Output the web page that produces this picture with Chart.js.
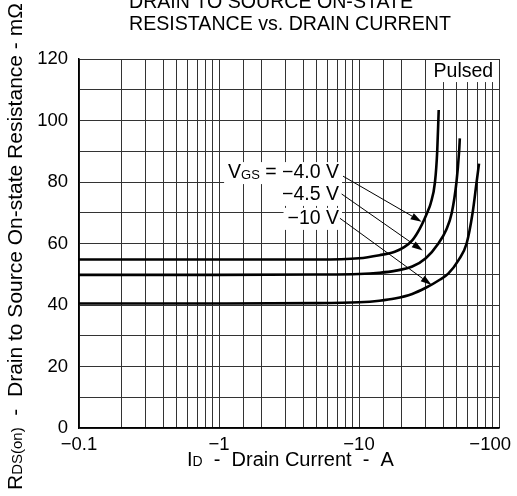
<!DOCTYPE html>
<html>
<head>
<meta charset="utf-8">
<script src="https://cdn.jsdelivr.net/npm/chart.js@4.4.1/dist/chart.umd.min.js"></script>
<style>
  body { margin: 0; background: #fff; }
  canvas { display: block; }
</style>
</head>
<body>
<canvas id="rds-chart" width="517" height="496"></canvas>
<script>
// drain current (magnitude, A) and on-state resistance (mOhm)
var idVgs40 = [0.1, 1, 5, 10, 14, 18, 21, 24, 27.3, 31, 32.5, 34.9, 36.2, 37.1];
var rdsVgs40 = [54.8, 54.8, 54.8, 55.2, 56.2, 57.3, 58.8, 61, 65, 70.5, 73, 80, 90, 103.4];

var idVgs45 = [0.1, 1, 5, 10, 14, 18, 24, 30, 36.9, 42, 46, 49.7, 51.9, 52.5];
var rdsVgs45 = [49.8, 49.8, 49.9, 50.1, 50.5, 51.1, 52.5, 55.2, 60, 64.5, 70, 80, 90, 94.2];

var idVgs10 = [0.1, 1, 5, 10, 14, 18, 24, 30, 38, 43.4, 51.4, 58.7, 64.8, 69.2, 72];
var rdsVgs10 = [40.5, 40.5, 40.6, 40.9, 41.4, 42.1, 43.6, 45.6, 48.3, 50.2, 54.6, 60, 70, 80, 86];

var xTickValues = [0.1, 1, 10, 100];
var xTickLabels = ['\u22120.1', '\u22121', '\u221210', '\u2212100'];
var yTickLabels = ['0', '20', '40', '60', '80', '100', '120'];

var vgsLabels = ['\u22124.0 V', '\u22124.5 V', '\u221210 V'];
// label anchor (right edge) and arrows, in data units
var labelAt = [[7.2, 82.9], [7.2, 75.8], [7.2, 68.0]];
var arrowFrom = [[7.69, 81.9], [7.52, 76.1], [7.31, 68.2]];
var arrowTo = [[28.0, 67.1], [28.5, 57.7], [33.0, 46.5]];

var FONT = "'Liberation Sans', Arial, sans-serif";

function toPoints(xs, ys) {
    return xs.map(function (x, i) { return { x: x, y: ys[i] }; });
}

function curve(xs, ys) {
    return {
        data: toPoints(xs, ys),
        borderColor: '#000',
        borderWidth: 2.6,
        pointRadius: 0,
        fill: false,
        cubicInterpolationMode: 'monotone'
    };
}

// draws text pieces left to right, each {t, s, dy}
function drawPieces(ctx, pieces, x, y) {
    pieces.forEach(function (p) {
        ctx.font = p.s + 'px ' + FONT;
        ctx.fillText(p.t, x, y + (p.dy || 0));
        x += ctx.measureText(p.t).width;
    });
    return x;
}

function piecesWidth(ctx, pieces) {
    var w = 0;
    pieces.forEach(function (p) {
        ctx.font = p.s + 'px ' + FONT;
        w += ctx.measureText(p.t).width;
    });
    return w;
}

function arrow(ctx, x1, y1, x2, y2) {
    var ang = Math.atan2(y2 - y1, x2 - x1);
    var len = 11, half = 3.5;
    var bx = x2 - len * Math.cos(ang), by = y2 - len * Math.sin(ang);
    ctx.beginPath();
    ctx.moveTo(x1, y1);
    ctx.lineTo(bx, by);
    ctx.lineWidth = 1;
    ctx.stroke();
    ctx.beginPath();
    ctx.moveTo(x2, y2);
    ctx.lineTo(bx + half * Math.sin(ang), by - half * Math.cos(ang));
    ctx.lineTo(bx - half * Math.sin(ang), by + half * Math.cos(ang));
    ctx.closePath();
    ctx.fill();
}

var decorations = {
    id: 'decorations',
    afterDatasetsDraw: function (chart) {
        var ctx = chart.ctx;
        var xs = chart.scales.x, ys = chart.scales.y;
        ctx.save();
        ctx.fillStyle = '#000';
        ctx.strokeStyle = '#000';
        ctx.textBaseline = 'middle';

        // "Pulsed" box
        var bl = xs.getPixelForValue(31), br = xs.getPixelForValue(100);
        var bt = ys.getPixelForValue(120), bb = ys.getPixelForValue(112.5);
        ctx.fillStyle = '#fff';
        ctx.fillRect(bl, bt + 1, br - bl - 1, bb - bt - 1);
        ctx.fillStyle = '#000';
        ctx.font = '19.5px ' + FONT;
        ctx.textAlign = 'center';
        ctx.fillText('Pulsed', (bl + br) / 2, (bt + bb) / 2 + 1);
        ctx.textAlign = 'left';

        // VGS labels with white backgrounds
        labelAt.forEach(function (a, i) {
            var pieces = i === 0
                ? [{ t: 'V', s: 19.5 }, { t: 'GS', s: 13, dy: 2 }, { t: ' = ', s: 19.5 }, { t: vgsLabels[i], s: 19.5 }]
                : [{ t: vgsLabels[i], s: 19.5 }];
            var w = piecesWidth(ctx, pieces);
            var rx = xs.getPixelForValue(a[0]);
            var cy = ys.getPixelForValue(a[1]);
            ctx.fillStyle = '#fff';
            ctx.fillRect(rx - w - 4, cy - 11, w + 7, 22);
            ctx.fillStyle = '#000';
            drawPieces(ctx, pieces, rx - w, cy);
        });

        // arrows
        arrowFrom.forEach(function (f, i) {
            arrow(ctx,
                xs.getPixelForValue(f[0]), ys.getPixelForValue(f[1]),
                xs.getPixelForValue(arrowTo[i][0]), ys.getPixelForValue(arrowTo[i][1]));
        });
        ctx.restore();
    },
    afterDraw: function (chart) {
        var ctx = chart.ctx;
        var xs = chart.scales.x;
        ctx.save();
        ctx.fillStyle = '#000';

        // x tick labels, kept inside the canvas at the right end
        ctx.font = '18.5px ' + FONT;
        ctx.textAlign = 'center';
        ctx.textBaseline = 'middle';
        xTickValues.forEach(function (v, i) {
            var px = xs.getPixelForValue(v);
            var w = ctx.measureText(xTickLabels[i]).width;
            px = Math.min(px, 511 - w / 2);
            ctx.fillText(xTickLabels[i], px, chart.chartArea.bottom + 17);
        });

        ctx.textBaseline = 'alphabetic';
        ctx.textAlign = 'left';

        // title
        ctx.font = '19.6px ' + FONT;
        ctx.fillText('DRAIN TO SOURCE ON-STATE', 129, 8);
        ctx.fillText('RESISTANCE vs. DRAIN CURRENT', 129, 30);

        // x axis title
        drawPieces(ctx, [
            { t: 'I', s: 20 }, { t: 'D', s: 14 },
            { t: '  -  Drain Current  -  A', s: 20 }
        ], 187, 466);

        // y axis title
        ctx.translate(22, 490);
        ctx.rotate(-Math.PI / 2);
        drawPieces(ctx, [
            { t: 'R', s: 21 }, { t: 'DS(on)', s: 15 },
            { t: '  -  Drain to Source On-state Resistance - m\u03a9', s: 21 }
        ], 0, 0);
        ctx.restore();
    }
};

var config = {
    type: 'line',
    data: {
        datasets: [
            curve(idVgs40, rdsVgs40),
            curve(idVgs45, rdsVgs45),
            curve(idVgs10, rdsVgs10)
        ]
    },
    options: {
        responsive: false,
        animation: false,
        devicePixelRatio: 1,
        layout: { padding: { top: 59, right: 18, left: 0, bottom: 0 } },
        plugins: {
            legend: { display: false },
            title: { display: false },
            tooltip: { enabled: false }
        },
        scales: {
            x: {
                type: 'logarithmic',
                min: 0.1,
                max: 100,
                border: { color: '#000', width: 1.5 },
                grid: { color: '#333', lineWidth: 1, drawTicks: false },
                ticks: {
                    autoSkip: false,
                    maxRotation: 0,
                    minRotation: 0,
                    // labels drawn by the plugin so the last one stays on the canvas
                    callback: function () { return ''; }
                },
                afterFit: function (s) {
                    s.height = 68;
                    s.paddingLeft = 0;
                    s.paddingRight = 0;
                }
            },
            y: {
                min: 0,
                max: 120,
                border: { color: '#000', width: 1.5 },
                grid: { color: '#333', lineWidth: 1, drawTicks: false },
                ticks: {
                    stepSize: 10,
                    padding: 11,
                    color: '#000',
                    font: { family: FONT, size: 18.5 },
                    callback: function (v) {
                        return v % 20 === 0 ? yTickLabels[v / 20] : '';
                    }
                },
                afterFit: function (s) {
                    s.width = 79;
                }
            }
        }
    },
    plugins: [decorations]
};

var chartCtx = document.getElementById('rds-chart').getContext('2d');
var rdsChart = new Chart(chartCtx, config);
</script>
</body>
</html>
